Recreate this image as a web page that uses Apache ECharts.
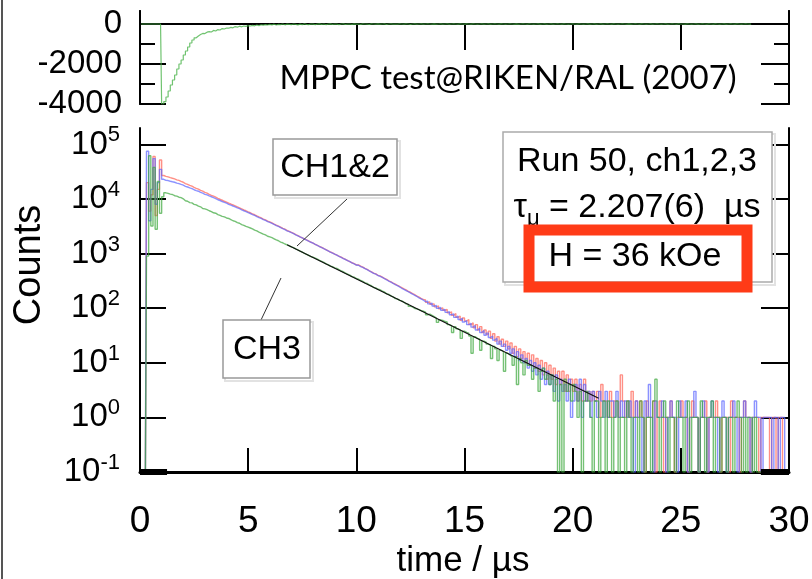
<!DOCTYPE html>
<html><head><meta charset="utf-8">
<script src="https://cdn.jsdelivr.net/npm/echarts@6/dist/echarts.min.js"></script>
<style>html,body{margin:0;padding:0;background:#fff}#c{width:812px;height:579px}</style>
</head><body><div id="c"></div>
<script>
// ---- data (histogram, 0.1 µs bins starting at t = 0) ----
const binWidth = 0.1;
const ch1Counts = [
0,0,0,20000,6000,12000,60000,5000,15000,52000,
27000,26000,25500,24700,24000,23400,22500,21900,21000,20300,
19200,18600,17800,17200,16300,15700,15200,14400,13900,13200,
12800,12200,11700,11300,10800,10300,9900,9500,9100,8800,
8400,8100,7800,7500,7200,6900,6600,6300,6100,5800,
5600,5350,5150,4900,4700,4520,4300,4150,3950,3800,
3650,3480,3320,3200,3050,2900,2800,2650,2560,2440,
2340,2220,2140,2030,1950,1860,1780,1700,1620,1560,
1480,1420,1350,1300,1230,1180,1120,1070,1030,980,
940,895,860,815,785,745,715,680,655,620,
620,590,565,535,515,485,465,440,425,400,
390,372,352,338,318,305,288,275,262,250,
238,226,216,204,196,185,178,166,160,150,
145,142,128,130,118,120,106,110,98,101,
92,95,82,86,74,80,68,72,60,66,
58,62,50,54,44,50,40,46,36,40,
33,38,28,34,25,30,22,27,20,25,
18,23,15,20,13,18,12,16,10,15,
9,14,8,12,7,11,6,10,5,9,
5,8,4,7,4,7,3,6,3,5,
3,5,2,4,2,5,2,3,2,3,
2,3,1,4,2,2,1,3,1,2,
2,1,6,2,1,2,1,3,1,2,
1,2,1,0,2,1,1,2,0,1,
2,1,0,1,1,2,1,0,1,1,
2,1,1,0,1,2,1,1,0,1,
1,2,0,1,1,1,2,1,0,1,
1,1,0,2,1,1,1,0,1,2,
1,1,0,1,1,1,0,1,1,1,
1,0,1,1,0,1,1,0,0,0];
const ch2Counts = [
0,0,0,75000,4000,15000,55000,8000,20000,35000,
23000,22000,21800,21200,20700,20300,19600,19200,18500,18000,
17100,16600,16000,15500,14800,14300,13900,13200,12800,12200,
11900,11400,11000,10600,10200,9700,9400,9000,8700,8400,
8000,7750,7450,7200,6900,6650,6350,6100,5900,5620,
5430,5200,5000,4780,4580,4410,4200,4060,3870,3720,
3580,3420,3270,3150,3000,2870,2760,2620,2530,2420,
2320,2210,2120,2020,1940,1850,1770,1690,1615,1550,
1475,1410,1350,1290,1230,1175,1120,1065,1025,975,
935,890,855,812,780,742,712,676,650,618,
612,580,560,530,508,482,460,436,420,397,
384,366,348,332,314,300,284,270,258,246,
232,222,210,201,190,182,172,164,155,148,
140,132,134,120,124,110,112,100,103,92,
95,84,86,76,79,68,72,62,65,56,
59,50,53,45,48,40,43,36,39,32,
35,29,31,26,28,22,25,20,22,17,
20,15,18,13,16,11,14,10,12,8,
11,7,10,6,9,5,8,4,7,4,
6,3,6,2,5,3,4,2,5,1,
2,4,2,5,1,4,2,3,1,3,
2,1,3,2,1,3,1,2,2,1,
3,1,2,1,2,1,2,1,0,2,
1,1,0,2,1,4,1,0,2,1,
1,2,1,0,1,2,1,1,0,2,
1,1,2,0,1,1,3,1,0,1,
2,1,0,1,2,1,1,0,1,2,
1,0,1,1,2,1,0,1,1,2,
1,1,0,1,2,1,1,0,1,1,
1,1,0,1,1,0,1,1,0,0];
const ch3Counts = [
0,0,0,900,62000,3200,38000,2800,21000,5500,
11000,13000,12700,12300,12100,11500,11300,10800,10600,10100,
9300,9100,8600,8500,8000,7800,7400,7200,6700,6600,
6400,6100,5900,5600,5500,5200,5000,4800,4700,4500,
4400,4200,4000,3900,3700,3600,3400,3300,3150,3050,
2950,2850,2700,2600,2480,2380,2270,2200,2080,2020,
1960,1870,1780,1720,1630,1580,1500,1440,1380,1330,
1290,1220,1170,1110,1070,1010,970,930,880,860,
830,790,750,720,690,650,630,590,575,550,
535,510,480,465,440,420,405,380,370,350,
340,322,310,292,285,266,258,240,236,222,
218,205,198,183,180,168,162,150,148,139,
136,129,120,118,108,106,99,97,94,90,
88,85,76,78,74,70,66,55,61,60,
57,56,50,48,36,46,42,40,28,38,
36,35,31,15,30,28,27,17,25,24,
22,21,12,20,18,11,17,16,7,15,
14,13,9,13,4,12,10,6,11,9,
9,5,8,8,3,7,8,5,6,4,
6,2,5,0,4,0,5,3,4,2,
4,3,1,3,0,2,3,2,1,0,
2,2,0,1,2,0,2,1,0,1,
2,0,1,1,0,2,1,0,1,1,
0,2,1,0,1,1,0,2,5,1,
0,1,2,1,0,1,1,0,2,1,
1,0,1,2,0,1,1,1,0,2,
1,0,1,1,2,0,1,1,0,1,
1,0,1,1,0,1,2,1,0,1,
0,1,1,0,1,0,0,0,0,0,
0,0,0,0,0,0,0,0,0,0];
// top panel (difference histogram, same binning)
const diffValues = [
0,0,0,0,0,0,0,0,0,0,
-4000,-3880,-3650,-3350,-3050,-2800,-2550,-2250,-2000,-1800,
-1550,-1350,-1150,-950,-800,-690,-600,-530,-470,-480,
-410,-380,-400,-320,-350,-280,-300,-230,-250,-200,
-210,-170,-190,-130,-160,-110,-140,-100,-120,-80,
-100,-70,-90,-50,-80,-40,-60,-30,-50,-20,
-40,-10,-50,-20,-30,0,-40,-10,-20,-30,
0,-20,-40,-10,-30,10,-20,-30,0,-10,
-30,-10,10,-20,0,-30,-10,10,-20,0,
-10,-30,0,10,-20,-10,0,-20,10,-10,
0,-20,10,0,-10,-20,10,0,-10,10,
-10,0,10,-20,0,10,-10,0,-10,10,
0,-10,10,0,-20,0,10,-10,0,10,
-10,0,10,0,-10,10,-10,0,10,-10,
0,10,-10,0,10,0,-10,10,0,-10,
10,0,-10,10,0,-10,0,10,-10,0,
10,-10,0,10,0,-10,10,0,-10,0,
10,0,-10,10,-10,0,10,0,-10,10,
0,-10,0,10,-10,0,10,-10,0,10,
-10,0,10,0,-10,10,0,-10,0,10,
0,-10,10,0,-10,0,10,-10,0,10,
-10,0,10,-10,0,10,0,-10,10,0,
-10,0,10,0,-10,10,-10,0,10,0,
-10,10,0,-10,0,10,-10,0,10,0,
-10,0,10,-10,0,10,0,-10,10,0,
0,-10,10,0,-10,0,10,-10,0,10,
0,-10,10,0,-10,10,0,-10,0,10,
-10,0,10,0,-10,10,0,-10,0,10,
0,-10,0];
// exponential fit on CH3 (end points, µs / counts)
const fitTimes = [6.8, 21.2];
const fitCounts = [1450, 2.24];
// empty-bin stretches drawn on the floor
const floorLeft = [0, 1.25];
const floorRight = [28.7, 30];
// ticks
const logTicks = [0.1, 1, 10, 100, 1000, 10000, 100000];
const topMajorTicks = [-4000, -2000, 0];
const topMinorTicks = [-3000, -1000];

const LOG_MIN = 0.1;
const FONT = '"Liberation Sans", Arial, sans-serif';
const hist = (arr, floor) => arr.map((c, i) => [Math.round((i + 0.5) * binWidth * 100) / 100, (floor && c <= 0) ? LOG_MIN : c]);

const chart = echarts.init(document.getElementById('c'), null, {renderer: 'canvas', width: 812, height: 579});
const axisBlack = {color: '#000', width: 2};
const yTop = (pos, ticks, len, labels) => ({
  type: 'value', gridIndex: 0, position: pos, min: -4000, max: 650,
  axisLine: {show: true, lineStyle: axisBlack},
  axisTick: {show: true, inside: true, length: len, customValues: ticks, lineStyle: {color: '#000', width: 2}},
  axisLabel: labels ? {show: true, customValues: topMajorTicks, formatter: v => String(v), fontSize: 33, fontFamily: FONT, color: '#000', margin: 18} : {show: false},
  splitLine: {show: false}
});
const logFmt = v => '{b|10}{s|' + Math.round(Math.log10(v)) + '}';

chart.setOption({
  animation: false,
  backgroundColor: '#fff',
  grid: [
    {left: 140, right: 23, top: 11, height: 93, containLabel: false, outerBoundsMode: 'none'},
    {left: 140, right: 23, top: 128, height: 344, containLabel: false, outerBoundsMode: 'none'}
  ],
  xAxis: [
    {type: 'value', gridIndex: 0, position: 'top', min: 0, max: 30, interval: 5,
     axisLine: {show: true, lineStyle: axisBlack},
     axisTick: {show: true, inside: true, length: 26, lineStyle: {color: '#000', width: 2}},
     axisLabel: {show: false}, splitLine: {show: false}},
    {type: 'value', gridIndex: 1, position: 'bottom', min: 0, max: 30, interval: 5,
     axisLine: {show: true, lineStyle: {color: '#000', width: 3}},
     axisTick: {show: true, inside: true, length: 24, lineStyle: {color: '#000', width: 2}},
     axisLabel: {fontSize: 37, fontFamily: FONT, color: '#000', margin: 31},
     splitLine: {show: false}}
  ],
  yAxis: [
    yTop('left', topMajorTicks, 26, true),
    yTop('left', topMinorTicks, 15, false),
    yTop('right', topMajorTicks, 28, false),
    yTop('right', topMinorTicks, 15, false),
    {type: 'log', logBase: 10, gridIndex: 1, position: 'left', min: LOG_MIN, max: 200000,
     axisLine: {show: true, lineStyle: axisBlack},
     axisTick: {show: true, inside: true, length: 26, customValues: logTicks, lineStyle: {color: '#000', width: 2}},
     axisLabel: {show: true, customValues: logTicks, formatter: logFmt, margin: 20, color: '#000',
       rich: {b: {fontSize: 33, fontFamily: FONT, color: '#000'},
              s: {fontSize: 22, fontFamily: FONT, color: '#000', padding: [0, 0, 18, 0]}}},
     splitLine: {show: false}},
    {type: 'log', logBase: 10, gridIndex: 1, position: 'right', min: LOG_MIN, max: 200000,
     axisLine: {show: true, lineStyle: axisBlack},
     axisTick: {show: true, inside: true, length: 28, customValues: logTicks, lineStyle: {color: '#000', width: 2}},
     axisLabel: {show: false}, splitLine: {show: false}}
  ],
  series: [
    {type: 'line', xAxisIndex: 0, yAxisIndex: 0, data: hist(diffValues, false), step: 'middle', symbol: 'none',
     lineStyle: {color: '#4cb44c', width: 1.2, opacity: 0.8}, silent: true},
    {type: 'line', name: 'CH1', xAxisIndex: 1, yAxisIndex: 4, data: hist(ch1Counts, true), step: 'middle', symbol: 'none',
     lineStyle: {color: '#ff6a5c', width: 1.4, opacity: 0.75}, silent: true},
    {type: 'line', name: 'CH2', xAxisIndex: 1, yAxisIndex: 4, data: hist(ch2Counts, true), step: 'middle', symbol: 'none',
     lineStyle: {color: '#5a64ff', width: 1.4, opacity: 0.7}, silent: true},
    {type: 'line', name: 'CH3', xAxisIndex: 1, yAxisIndex: 4, data: hist(ch3Counts, true), step: 'middle', symbol: 'none',
     lineStyle: {color: '#3aa63a', width: 1.4, opacity: 0.7}, silent: true},
    {type: 'line', name: 'fit', xAxisIndex: 1, yAxisIndex: 4, data: fitTimes.map((t, i) => [t, fitCounts[i]]), symbol: 'none',
     lineStyle: {color: '#111', width: 1.2}, silent: true, z: 5},
    {type: 'line', xAxisIndex: 1, yAxisIndex: 4, data: floorLeft.map(t => [t, LOG_MIN]), symbol: 'none',
     lineStyle: {color: '#000', width: 6}, silent: true, z: 6},
    {type: 'line', xAxisIndex: 1, yAxisIndex: 4, data: floorRight.map(t => [t, LOG_MIN]), symbol: 'none',
     lineStyle: {color: '#000', width: 6}, silent: true, z: 6}
  ],
  graphic: [
    {type: 'line', z: 100, shape: {x1: 2, y1: 0, x2: 2, y2: 579}, style: {stroke: '#555', lineWidth: 2}},
    {type: 'text', z: 100, x: 508, y: 78, style: {text: 'MPPC test@RIKEN/RAL (2007)', font: '33px Lato, "Open Sans", sans-serif', fill: '#000', align: 'center', verticalAlign: 'middle'}},
    {type: 'text', z: 100, x: 30, y: 265, rotation: Math.PI / 2, style: {text: 'Counts', font: '38px ' + FONT, fill: '#000', align: 'center', verticalAlign: 'middle'}},
    {type: 'text', z: 100, x: 463, y: 561, style: {text: 'time / µs', font: '35px ' + FONT, fill: '#000', align: 'center', verticalAlign: 'middle'}},
    // CH1&2 label
    {type: 'rect', z: 100, shape: {x: 275, y: 141, width: 125, height: 57}, style: {fill: 'none', stroke: '#e2e2e2', lineWidth: 2}},
    {type: 'rect', z: 101, shape: {x: 273, y: 139, width: 124, height: 56}, style: {fill: '#fff', stroke: '#999', lineWidth: 1.5}},
    {type: 'text', z: 102, x: 335, y: 168, style: {text: 'CH1&2', font: '34px ' + FONT, fill: '#000', align: 'center', verticalAlign: 'middle'}},
    {type: 'line', z: 100, shape: {x1: 347, y1: 199, x2: 297, y2: 246}, style: {stroke: '#333', lineWidth: 1}},
    // CH3 label
    {type: 'rect', z: 100, shape: {x: 225, y: 322, width: 88, height: 59}, style: {fill: 'none', stroke: '#e2e2e2', lineWidth: 2}},
    {type: 'rect', z: 101, shape: {x: 223, y: 320, width: 87, height: 58}, style: {fill: '#fff', stroke: '#999', lineWidth: 1.5}},
    {type: 'text', z: 102, x: 267, y: 350, style: {text: 'CH3', font: '34px ' + FONT, fill: '#000', align: 'center', verticalAlign: 'middle'}},
    {type: 'line', z: 100, shape: {x1: 281, y1: 278, x2: 261, y2: 320}, style: {stroke: '#333', lineWidth: 1}},
    // info box
    {type: 'rect', z: 100, shape: {x: 505, y: 134, width: 270, height: 151}, style: {fill: 'none', stroke: '#e2e2e2', lineWidth: 2}},
    {type: 'rect', z: 101, shape: {x: 503, y: 132, width: 269, height: 150}, style: {fill: '#fff', stroke: '#aaa', lineWidth: 1.5}},
    {type: 'text', z: 102, x: 637, y: 162, style: {text: 'Run 50, ch1,2,3', font: '34px ' + FONT, fill: '#000', align: 'center', verticalAlign: 'middle'}},
    {type: 'text', z: 102, x: 637, y: 208, style: {text: '{n|τ}{u|μ}{n| = 2.207(6)  µs}', align: 'center', verticalAlign: 'middle',
      rich: {n: {fontSize: 34, fontFamily: FONT, fill: '#000'}, u: {fontSize: 22, fontFamily: FONT, fill: '#000', padding: [22, 0, 0, 0]}}}},
    {type: 'text', z: 102, x: 635, y: 257, style: {text: 'H = 36 kOe', font: '34px ' + FONT, fill: '#000', align: 'center', verticalAlign: 'middle'}},
    {type: 'rect', z: 103, shape: {x: 529, y: 230, width: 218, height: 57}, style: {fill: 'none', stroke: '#ff3b17', lineWidth: 11}}
  ]
});
</script></body></html>
